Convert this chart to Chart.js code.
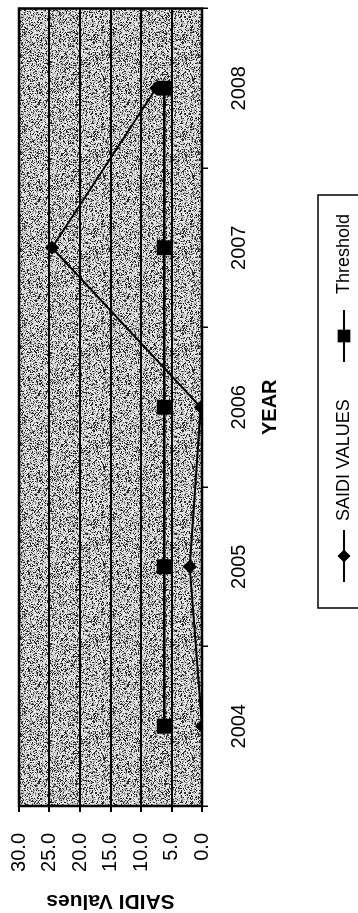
<!DOCTYPE html>
<html>
<head>
<meta charset="utf-8">
<script src="https://cdn.jsdelivr.net/npm/chart.js@4.4.1/dist/chart.umd.min.js"></script>
<style>
  html, body { margin: 0; padding: 0; background: #fff; overflow: hidden; width: 358px; height: 913px; }
  /* the chart is drawn landscape and turned a quarter turn, like the scanned page */
  #wrap { position: absolute; left: 0; top: 0; width: 915px; height: 358px;
          transform-origin: 0 0; transform: translateY(913px) rotate(-90deg); }
</style>
</head>
<body>
<div id="wrap"><canvas id="chart" width="915" height="358"></canvas></div>
<script>
const years = ['2004', '2005', '2006', '2007', '2008'];
const saidiValues = [0.0, 2.0, 0.2, 24.6, 7.5];
const thresholdValues = [6.2, 6.2, 6.2, 6.2, 6.2];
const seriesNames = ['SAIDI VALUES', 'Threshold'];
const yMin = 0, yMax = 30, yStep = 5;

const FONT = '"Liberation Sans", Arial, sans-serif';

// speckled grey fill of the plot area (scan texture)
function makeGrain() {
  const c = document.createElement('canvas');
  c.width = 97; c.height = 89;
  const g = c.getContext('2d');
  g.fillStyle = '#e6e6e6';
  g.fillRect(0, 0, c.width, c.height);
  for (let y = 0; y < c.height; y++) {
    for (let x = 0; x < c.width; x++) {
      let h = Math.sin(x * 12.9898 + y * 78.233) * 43758.5453;
      h = h - Math.floor(h);
      if (h < 0.22) g.fillStyle = '#2a2a2a';
      else if (h < 0.40) g.fillStyle = '#8a8a8a';
      else if (h < 0.55) g.fillStyle = '#c4c4c4';
      else continue;
      g.fillRect(x, y, 1, 1);
    }
  }
  return c;
}
const grain = makeGrain();

function drawMarker(ctx, style, r, x, y) {
  ctx.beginPath();
  if (style === 'rectRot') {
    ctx.moveTo(x, y - r); ctx.lineTo(x + r, y); ctx.lineTo(x, y + r); ctx.lineTo(x - r, y);
    ctx.closePath();
  } else {
    const s = Math.SQRT1_2 * r;
    ctx.rect(x - s, y - s, 2 * s, 2 * s);
  }
  ctx.fill();
}

const framePlugin = {
  id: 'framePlugin',
  beforeDraw(chart) {
    const { ctx, chartArea: a } = chart;
    ctx.save();
    ctx.fillStyle = ctx.createPattern(grain, 'repeat');
    ctx.fillRect(a.left, a.top, a.right - a.left, a.bottom - a.top);
    ctx.restore();
  },
  beforeDatasetsDraw(chart) {
    const { ctx, chartArea: a } = chart;
    ctx.save();
    ctx.strokeStyle = '#000';
    ctx.lineWidth = 2.5;
    ctx.strokeRect(a.left, a.top, a.right - a.left, a.bottom - a.top);
    ctx.restore();
  },
  afterDraw(chart) {
    // boxed legend under the axis title
    const ctx = chart.ctx;
    ctx.save();
    ctx.strokeStyle = '#000';
    ctx.lineWidth = 1.5;
    ctx.strokeRect(305, 318, 413, 80);
    const items = [{ x: 331, tx: 392 }, { x: 551, tx: 619 }];
    chart.data.datasets.forEach((ds, i) => {
      const it = items[i], cy = 344;
      ctx.strokeStyle = '#000';
      ctx.lineWidth = 2;
      ctx.beginPath(); ctx.moveTo(it.x, cy); ctx.lineTo(it.x + 52, cy); ctx.stroke();
      ctx.fillStyle = '#000';
      drawMarker(ctx, ds.pointStyle, ds.pointStyle === 'rect' ? 9 : 6.5, it.x + 26, cy);
      ctx.font = '18px ' + FONT;
      ctx.textBaseline = 'middle';
      ctx.textAlign = 'left';
      ctx.fillText(ds.label, it.tx, cy);
    });
    ctx.restore();
  }
};

new Chart(document.getElementById('chart'), {
  type: 'line',
  data: {
    labels: years,
    datasets: [
      {
        label: seriesNames[0], data: saidiValues,
        borderColor: '#000', backgroundColor: '#000', borderWidth: 2,
        pointStyle: 'rectRot', pointRadius: 7, pointBorderWidth: 0, tension: 0
      },
      {
        label: seriesNames[1], data: thresholdValues,
        borderColor: '#000', backgroundColor: '#000', borderWidth: 2.5,
        pointStyle: 'rect', pointRadius: 10.5, pointBorderWidth: 0, tension: 0
      }
    ]
  },
  options: {
    responsive: false,
    animation: false,
    layout: { padding: { left: 0, right: 0, top: 19, bottom: 0 } },
    plugins: { legend: { display: false }, tooltip: { enabled: false } },
    scales: {
      x: {
        type: 'category',
        offset: true,
        grid: { offset: true, drawOnChartArea: false, color: '#000', lineWidth: 1.5, tickLength: 6 },
        border: { display: false },
        ticks: { color: '#000', font: { size: 20, family: FONT }, padding: 19, maxRotation: 0 },
        title: { display: true, text: 'YEAR', color: '#000',
                 font: { size: 20, weight: 'bold', family: FONT }, padding: { top: 0, bottom: 76 } },
        afterFit(scale) {
          scale.height = 156;
          scale.paddingLeft = 0;
          scale.paddingRight = 0;
        }
      },
      y: {
        min: yMin, max: yMax,
        grid: { color: '#000', lineWidth: 2, tickLength: 6 },
        border: { display: false },
        ticks: { stepSize: yStep, color: '#000', font: { size: 20, family: FONT }, padding: 21,
                 callback: v => v.toFixed(1) },
        title: { display: true, text: 'SAIDI Values', color: '#000',
                 font: { size: 21, weight: 'bold', family: FONT }, padding: { top: 0, bottom: 0 } },
        afterFit(scale) {
          scale.width = 107;
          scale.paddingTop = 0;
          scale.paddingBottom = 0;
        }
      }
    }
  },
  plugins: [framePlugin]
});
</script>
</body>
</html>
